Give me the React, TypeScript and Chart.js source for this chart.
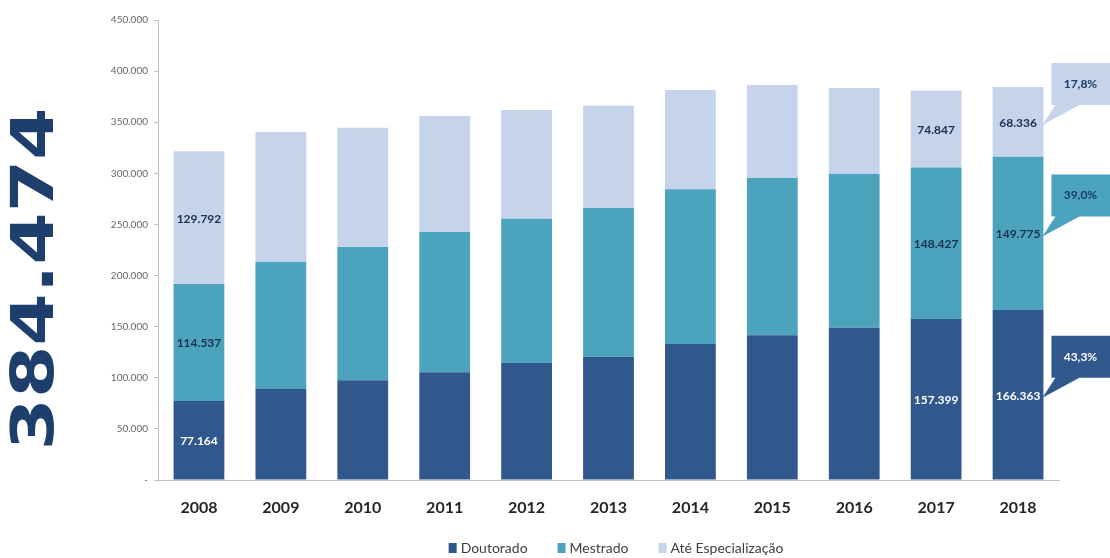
import React, { useEffect, useRef } from 'react';
import { Chart, registerables } from 'chart.js';

Chart.register(...registerables);

const years = ['2008', '2009', '2010', '2011', '2012', '2013', '2014', '2015', '2016', '2017', '2018'];
const doutorado = [77164, 89000, 97500, 105500, 114500, 120500, 133000, 141500, 149000, 157399, 166363];
const mestrado = [114537, 124500, 130500, 137000, 141000, 145500, 151500, 154000, 150500, 148427, 149775];
const especializacao = [129792, 127000, 116500, 113500, 106500, 100000, 97000, 91000, 84000, 74847, 68336];
const seriesNames = ['Doutorado', 'Mestrado', 'Até Especialização'];
const seriesColors = ['#30588c', '#4ba3be', '#c5d4ea'];
const labelColors = ['#ffffff', '#1b2f4f', '#1b2f4f'];
const shares2018 = ['43,3%', '39,0%', '17,8%'];
const shareTextColors = ['#ffffff', '#1b3a66', '#1b3a66'];
const labeledYears = ['2008', '2017', '2018'];
const totalLabel = '384.474';
const yMax = 450000;
const yStep = 50000;

const fmt = (v: number) => String(Math.round(v)).replace(/\B(?=(\d{3})+(?!\d))/g, '.');

const overlay = {
  id: 'overlay',
  afterDatasetsDraw(chart: any) {
    const ctx = chart.ctx as CanvasRenderingContext2D;
    ctx.save();
    ctx.font = 'bold 12px Lato';
    ctx.textAlign = 'center';
    ctx.textBaseline = 'middle';
    chart.data.datasets.forEach((ds: any, di: number) => {
      const meta = chart.getDatasetMeta(di);
      labeledYears.forEach((yr) => {
        const idx = years.indexOf(yr);
        const el = meta.data[idx];
        if (!el) return;
        const p = el.getProps(['x', 'y', 'base'], true);
        ctx.fillStyle = labelColors[di];
        ctx.fillText(fmt(ds.data[idx]), p.x, (p.y + p.base) / 2 + 1);
      });
    });
    const last = years.length - 1;
    chart.data.datasets.forEach((ds: any, di: number) => {
      const meta = chart.getDatasetMeta(di);
      const el = meta.data[last];
      const p = el.getProps(['x', 'y', 'base', 'width'], true);
      const tipX = p.x + p.width / 2 - 1;
      const tipY = (p.y + p.base) / 2 + 3;
      const left = tipX + 9;
      const bottom = tipY - 20;
      const top = bottom - 42;
      const right = chart.width + 5;
      ctx.fillStyle = seriesColors[di];
      ctx.beginPath();
      ctx.moveTo(left, top);
      ctx.lineTo(right, top);
      ctx.lineTo(right, bottom);
      ctx.lineTo(left + 28, bottom);
      ctx.lineTo(tipX, tipY);
      ctx.lineTo(left + 4, bottom);
      ctx.lineTo(left, bottom);
      ctx.closePath();
      ctx.fill();
      ctx.fillStyle = shareTextColors[di];
      ctx.font = 'bold 12px Lato';
      ctx.textAlign = 'center';
      ctx.fillText(shares2018[di], left + 29, (top + bottom) / 2);
    });
    ctx.restore();
  },
  afterDraw(chart: any) {
    const ctx = chart.ctx as CanvasRenderingContext2D;
    ctx.save();
    ctx.font = 'bold 58px "DejaVu Sans"';
    const w = ctx.measureText(totalLabel).width;
    ctx.translate(38, 279);
    ctx.rotate(-Math.PI / 2);
    ctx.scale(343 / w, 1);
    ctx.fillStyle = '#1e3f6e';
    ctx.textAlign = 'center';
    ctx.textBaseline = 'middle';
    ctx.fillText(totalLabel, 0, 0);
    ctx.restore();

    ctx.save();
    ctx.font = '14px Lato';
    ctx.textBaseline = 'middle';
    ctx.textAlign = 'left';
    const boxW = 8, boxH = 10, gapBox = 4, gapItem = 30;
    const widths = seriesNames.map((n) => ctx.measureText(n).width);
    const total = widths.reduce((a, b) => a + b + boxW + gapBox, 0) + gapItem * (seriesNames.length - 1);
    let x = 616 - total / 2;
    const cy = 548;
    seriesNames.forEach((n, i) => {
      ctx.fillStyle = seriesColors[i];
      ctx.fillRect(x, cy - boxH / 2, boxW, boxH);
      x += boxW + gapBox;
      ctx.fillStyle = '#404040';
      ctx.fillText(n, x, cy);
      x += widths[i] + gapItem;
    });
    ctx.restore();
  },
};

export default function App() {
  const ref = useRef<HTMLCanvasElement>(null);
  useEffect(() => {
    if (!ref.current) return;
    Chart.defaults.font.family = 'Lato';
    const chart = new Chart(ref.current, {
      type: 'bar',
      data: {
        labels: years,
        datasets: [
          { label: seriesNames[0], data: doutorado, backgroundColor: seriesColors[0] },
          { label: seriesNames[1], data: mestrado, backgroundColor: seriesColors[1] },
          { label: seriesNames[2], data: especializacao, backgroundColor: seriesColors[2] },
        ],
      },
      options: {
        responsive: false,
        animation: false,
        layout: { padding: { left: 98, right: 0, top: 20, bottom: 38 } },
        datasets: { bar: { categoryPercentage: 1, barPercentage: 0.62 } },
        plugins: { legend: { display: false }, tooltip: { enabled: false } },
        scales: {
          x: {
            stacked: true,
            grid: { display: false, drawTicks: false },
            border: { color: '#bfbfbf' },
            ticks: { padding: 18, color: '#262626', font: { size: 16, weight: 'bold', family: 'Lato' } },
            afterFit: (s: any) => { s.height = 40; },
          },
          y: {
            stacked: true,
            min: 0,
            max: yMax,
            grid: { display: true, drawOnChartArea: false, drawTicks: true, tickLength: 4, color: '#bfbfbf' },
            border: { color: '#bfbfbf' },
            ticks: {
              stepSize: yStep,
              padding: 6,
              color: '#666666',
              font: { size: 10, family: 'Lato' },
              callback: (v: any) => (Number(v) === 0 ? '-' : fmt(Number(v))),
            },
            afterFit: (s: any) => { s.width = 60; },
          },
          y2: {
            position: 'right',
            display: true,
            grid: { display: false, drawTicks: false },
            border: { display: false },
            ticks: { display: false },
            afterFit: (s: any) => { s.width = 51; },
          },
        },
      },
      plugins: [overlay],
    } as any);
    return () => chart.destroy();
  }, []);
  return (
    <div style={{ position: 'absolute', left: 0, top: 0, width: 1110, height: 558, background: '#ffffff' }}>
      <canvas ref={ref} width={1110} height={558} />
    </div>
  );
}
